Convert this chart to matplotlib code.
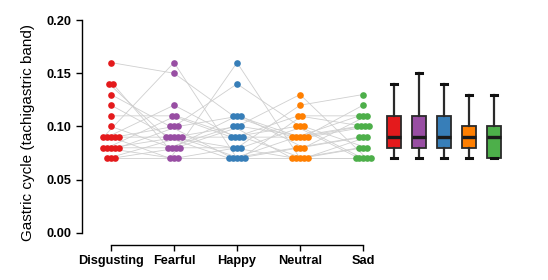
import numpy as np
import matplotlib
matplotlib.use("Agg")
import matplotlib.pyplot as plt

plt.rcParams["font.family"] = ["Liberation Sans", "DejaVu Sans"]

# Data: one value per subject and condition
conditions = ["Disgusting", "Fearful", "Happy", "Neutral", "Sad"]
colors = ["#E41A1C", "#984EA3", "#377EB8", "#FF7F00", "#4DAF4A"]

disgusting = [0.16, 0.14, 0.14, 0.13, 0.12, 0.11, 0.10, 0.09, 0.09, 0.09,
              0.09, 0.09, 0.08, 0.08, 0.08, 0.08, 0.08, 0.07, 0.07, 0.07]
fearful = [0.15, 0.09, 0.08, 0.10, 0.09, 0.11, 0.08, 0.16, 0.12, 0.07,
           0.10, 0.09, 0.07, 0.11, 0.09, 0.08, 0.10, 0.09, 0.08, 0.07]
happy = [0.11, 0.07, 0.10, 0.07, 0.08, 0.09, 0.11, 0.07, 0.09, 0.16,
         0.14, 0.10, 0.08, 0.09, 0.07, 0.10, 0.11, 0.09, 0.08, 0.07]
neutral = [0.09, 0.08, 0.07, 0.09, 0.07, 0.10, 0.09, 0.08, 0.11, 0.07,
           0.10, 0.13, 0.12, 0.09, 0.11, 0.09, 0.08, 0.07, 0.10, 0.07]
sad = [0.10, 0.09, 0.07, 0.11, 0.08, 0.07, 0.10, 0.09, 0.10, 0.08,
       0.07, 0.07, 0.13, 0.12, 0.11, 0.10, 0.11, 0.09, 0.08, 0.07]

# Box summaries as drawn on the right
box_whislo = [0.07, 0.07, 0.07, 0.07, 0.07]
box_q1 = [0.08, 0.08, 0.08, 0.08, 0.07]
box_med = [0.09, 0.09, 0.09, 0.09, 0.09]
box_q3 = [0.11, 0.11, 0.11, 0.10, 0.10]
box_whishi = [0.14, 0.15, 0.14, 0.13, 0.13]

yticks = [0.00, 0.05, 0.10, 0.15, 0.20]

series = [disgusting, fearful, happy, neutral, sad]
values = np.array(series).T  # subjects x conditions
n_sub, n_cond = values.shape
cond_x = np.arange(1, n_cond + 1)

# spread points sharing a value side by side around the category position
spacing = 0.06
xpos = np.zeros_like(values)
for j in range(n_cond):
    col = np.round(values[:, j], 3)
    for v in np.unique(col):
        idx = np.where(col == v)[0]
        k = len(idx)
        xpos[idx, j] = cond_x[j] + (np.arange(k) - (k - 1) / 2) * spacing

fig = plt.figure(figsize=(5.48, 2.8), dpi=100)
ax = fig.add_axes([82 / 548, 35 / 280, (520 - 82) / 548, (245 - 20) / 280])

for i in range(n_sub):
    ax.plot(xpos[i], values[i], color="#cfcfcf", lw=0.6, zorder=1)

for j in range(n_cond):
    ax.plot(xpos[:, j], values[:, j], "o", ms=4.8, color=colors[j],
            mec="none", zorder=3)

box_pos = 5.49 + 0.397 * np.arange(n_cond)
stats = []
for j in range(n_cond):
    stats.append({"whislo": box_whislo[j], "q1": box_q1[j], "med": box_med[j],
                  "q3": box_q3[j], "whishi": box_whishi[j], "fliers": []})
bp = ax.bxp(stats, positions=box_pos, widths=0.23, patch_artist=True,
            showfliers=False, manage_ticks=False,
            boxprops=dict(edgecolor="#2a2a2a", lw=1.3),
            medianprops=dict(color="#1a1a1a", lw=2.4),
            whiskerprops=dict(color="#2a2a2a", lw=1.6),
            capprops=dict(color="#111111", lw=2.2), capwidths=0.1)
for patch, c in zip(bp["boxes"], colors):
    patch.set_facecolor(c)

ax.set_xlim(0.54, 7.49)
ax.set_ylim(-0.0113, 0.20)

ax.spines["top"].set_visible(False)
ax.spines["right"].set_visible(False)
ax.spines["left"].set_bounds(0, 0.20)
ax.spines["bottom"].set_bounds(1, 5)
ax.spines["left"].set_linewidth(1.0)
ax.spines["bottom"].set_linewidth(1.0)

ax.set_yticks(yticks)
ax.set_yticklabels([f"{t:.2f}" for t in yticks], fontweight="bold", fontsize=9.2)
ax.set_xticks(cond_x)
ax.set_xticklabels(conditions, fontweight="bold", fontsize=9.2)
ax.tick_params(axis="both", length=4.5, width=1.0, pad=3)

ax.set_ylabel("Gastric cycle (tachigastric band)", fontsize=11, labelpad=8)

fig.savefig("out.png", dpi=100)
